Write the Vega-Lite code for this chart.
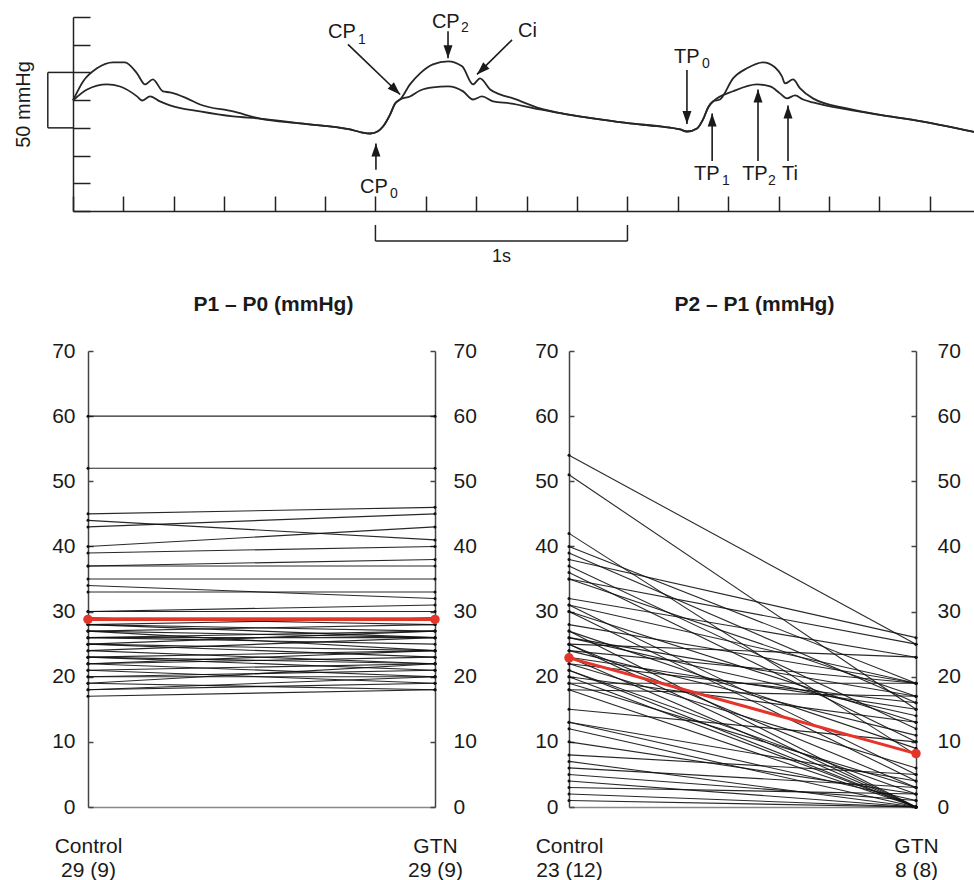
{
  "$schema": "https://vega.github.io/schema/vega-lite/v6.json",
  "padding": {"left": 14, "top": 11, "right": 0, "bottom": 0},
  "background": "white",
  "config": {"view": {"stroke": null}, "font": "Liberation Sans", "axis": {"grid": false}},
  "bounds": "flush",
  "spacing": 140,
  "datasets": {
    "wave": [
      {"trace":"A","t":0,"p":99.7},{"trace":"A","t":40,"p":116.9},{"trace":"A","t":95,"p":128.7},{"trace":"A","t":159,"p":134.1},{"trace":"A","t":206,"p":134.1},{"trace":"A","t":254,"p":124.2},{"trace":"A","t":286,"p":114.2},{"trace":"A","t":317,"p":118.8},{"trace":"A","t":357,"p":107.9},{"trace":"A","t":385,"p":107.0},{"trace":"A","t":452,"p":101.6},{"trace":"A","t":504,"p":96.1},{"trace":"A","t":635,"p":89.8},{"trace":"A","t":742,"p":83.4},{"trace":"A","t":901,"p":79.0},{"trace":"A","t":1099,"p":73.6},{"trace":"A","t":1147,"p":70.8},{"trace":"A","t":1179,"p":69.9},{"trace":"A","t":1210,"p":72.0},{"trace":"A","t":1230,"p":76.2},{"trace":"A","t":1258,"p":87.0},{"trace":"A","t":1278,"p":97.0},{"trace":"A","t":1298,"p":100.6},{"trace":"A","t":1337,"p":114.2},{"trace":"A","t":1377,"p":124.2},{"trace":"A","t":1428,"p":132.3},{"trace":"A","t":1488,"p":135.0},{"trace":"A","t":1544,"p":130.5},{"trace":"A","t":1587,"p":114.2},{"trace":"A","t":1615,"p":119.6},{"trace":"A","t":1655,"p":109.6},{"trace":"A","t":1694,"p":105.2},{"trace":"A","t":1746,"p":101.6},{"trace":"A","t":1853,"p":92.5},{"trace":"A","t":1960,"p":87.1},{"trace":"A","t":2091,"p":82.6},{"trace":"A","t":2210,"p":79.0},{"trace":"A","t":2329,"p":76.3},{"trace":"A","t":2409,"p":73.6},{"trace":"A","t":2436,"p":71.7},{"trace":"A","t":2476,"p":74.5},{"trace":"A","t":2500,"p":82.6},{"trace":"A","t":2520,"p":93.4},{"trace":"A","t":2540,"p":98.9},{"trace":"A","t":2567,"p":100.6},{"trace":"A","t":2619,"p":119.6},{"trace":"A","t":2674,"p":128.7},{"trace":"A","t":2738,"p":134.1},{"trace":"A","t":2786,"p":129.5},{"trace":"A","t":2813,"p":121.4},{"trace":"A","t":2825,"p":115.1},{"trace":"A","t":2857,"p":118.7},{"trace":"A","t":2885,"p":110.6},{"trace":"A","t":2936,"p":101.6},{"trace":"A","t":3071,"p":92.5},{"trace":"A","t":3202,"p":86.7},{"trace":"A","t":3333,"p":82.2},{"trace":"A","t":3575,"p":71.4},
      {"trace":"B","t":0,"p":99.7},{"trace":"B","t":56,"p":109.6},{"trace":"B","t":135,"p":114.2},{"trace":"B","t":187,"p":112.3},{"trace":"B","t":254,"p":103.4},{"trace":"B","t":274,"p":99.7},{"trace":"B","t":306,"p":103.4},{"trace":"B","t":345,"p":98.9},{"trace":"B","t":385,"p":95.3},{"trace":"B","t":504,"p":89.8},{"trace":"B","t":635,"p":85.3},{"trace":"B","t":742,"p":83.4},{"trace":"B","t":901,"p":79.0},{"trace":"B","t":1099,"p":73.6},{"trace":"B","t":1147,"p":70.8},{"trace":"B","t":1179,"p":69.9},{"trace":"B","t":1210,"p":72.0},{"trace":"B","t":1230,"p":76.2},{"trace":"B","t":1258,"p":87.0},{"trace":"B","t":1278,"p":97.0},{"trace":"B","t":1298,"p":100.6},{"trace":"B","t":1337,"p":103.3},{"trace":"B","t":1377,"p":108.7},{"trace":"B","t":1428,"p":111.5},{"trace":"B","t":1488,"p":112.4},{"trace":"B","t":1548,"p":107.9},{"trace":"B","t":1587,"p":100.6},{"trace":"B","t":1623,"p":103.4},{"trace":"B","t":1667,"p":98.9},{"trace":"B","t":1734,"p":97.1},{"trace":"B","t":1853,"p":91.6},{"trace":"B","t":1960,"p":87.1},{"trace":"B","t":2091,"p":82.6},{"trace":"B","t":2210,"p":79.0},{"trace":"B","t":2329,"p":76.3},{"trace":"B","t":2409,"p":73.6},{"trace":"B","t":2436,"p":71.7},{"trace":"B","t":2476,"p":74.5},{"trace":"B","t":2500,"p":82.6},{"trace":"B","t":2520,"p":93.4},{"trace":"B","t":2540,"p":98.9},{"trace":"B","t":2619,"p":108.0},{"trace":"B","t":2714,"p":114.2},{"trace":"B","t":2766,"p":112.4},{"trace":"B","t":2805,"p":106.1},{"trace":"B","t":2833,"p":101.6},{"trace":"B","t":2865,"p":104.3},{"trace":"B","t":2897,"p":100.6},{"trace":"B","t":2936,"p":97.9},{"trace":"B","t":3071,"p":91.6},{"trace":"B","t":3202,"p":86.7},{"trace":"B","t":3333,"p":82.2},{"trace":"B","t":3575,"p":71.4}
    ],
    "p1p0": [
      {"id":1,"Control":60,"GTN":60},{"id":2,"Control":52,"GTN":52},{"id":3,"Control":45,"GTN":46},{"id":4,"Control":44,"GTN":41},{"id":5,"Control":43,"GTN":45},{"id":6,"Control":40,"GTN":43},{"id":7,"Control":39,"GTN":40},{"id":8,"Control":37,"GTN":38},{"id":9,"Control":37,"GTN":37},{"id":10,"Control":35,"GTN":35},{"id":11,"Control":34,"GTN":32},{"id":12,"Control":33,"GTN":33},{"id":13,"Control":30,"GTN":31},{"id":14,"Control":30,"GTN":30},{"id":15,"Control":29,"GTN":29},{"id":16,"Control":29,"GTN":28},{"id":17,"Control":28,"GTN":29},{"id":18,"Control":28,"GTN":27},{"id":19,"Control":27,"GTN":28},{"id":20,"Control":27,"GTN":26},{"id":21,"Control":26,"GTN":27},{"id":22,"Control":26,"GTN":26},{"id":23,"Control":26,"GTN":25},{"id":24,"Control":25,"GTN":27},{"id":25,"Control":25,"GTN":24},{"id":26,"Control":25,"GTN":23},{"id":27,"Control":24,"GTN":26},{"id":28,"Control":23,"GTN":24},{"id":29,"Control":23,"GTN":22},{"id":30,"Control":23,"GTN":21},{"id":31,"Control":22,"GTN":24},{"id":32,"Control":22,"GTN":23},{"id":33,"Control":22,"GTN":20},{"id":34,"Control":21,"GTN":22},{"id":35,"Control":21,"GTN":19},{"id":36,"Control":20,"GTN":21},{"id":37,"Control":20,"GTN":20},{"id":38,"Control":19,"GTN":22},{"id":39,"Control":19,"GTN":18},{"id":40,"Control":18,"GTN":20},{"id":41,"Control":18,"GTN":19},{"id":42,"Control":17,"GTN":18},{"id":43,"Control":28,"GTN":26},{"id":44,"Control":27,"GTN":24},{"id":45,"Control":24,"GTN":22}
    ],
    "p2p1": [
      {"id":1,"Control":54,"GTN":25},{"id":2,"Control":51,"GTN":15},{"id":3,"Control":42,"GTN":8},{"id":4,"Control":40,"GTN":19},{"id":5,"Control":39,"GTN":16},{"id":6,"Control":38,"GTN":26},{"id":7,"Control":37,"GTN":12},{"id":8,"Control":36,"GTN":10},{"id":9,"Control":35,"GTN":25},{"id":10,"Control":35,"GTN":17},{"id":11,"Control":32,"GTN":23},{"id":12,"Control":31,"GTN":19},{"id":13,"Control":31,"GTN":5},{"id":14,"Control":30,"GTN":13},{"id":15,"Control":30,"GTN":4},{"id":16,"Control":28,"GTN":19},{"id":17,"Control":27,"GTN":9},{"id":18,"Control":27,"GTN":0},{"id":19,"Control":26,"GTN":17},{"id":20,"Control":26,"GTN":14},{"id":21,"Control":25,"GTN":23},{"id":22,"Control":25,"GTN":3},{"id":23,"Control":25,"GTN":0},{"id":24,"Control":24,"GTN":19},{"id":25,"Control":24,"GTN":11},{"id":26,"Control":23,"GTN":15},{"id":27,"Control":23,"GTN":0},{"id":28,"Control":22,"GTN":16},{"id":29,"Control":22,"GTN":6},{"id":30,"Control":21,"GTN":2},{"id":31,"Control":21,"GTN":0},{"id":32,"Control":20,"GTN":13},{"id":33,"Control":20,"GTN":0},{"id":34,"Control":19,"GTN":19},{"id":35,"Control":19,"GTN":3},{"id":36,"Control":18,"GTN":17},{"id":37,"Control":18,"GTN":0},{"id":38,"Control":15,"GTN":10},{"id":39,"Control":13,"GTN":4},{"id":40,"Control":13,"GTN":1},{"id":41,"Control":12,"GTN":0},{"id":42,"Control":10,"GTN":2},{"id":43,"Control":8,"GTN":5},{"id":44,"Control":7,"GTN":0},{"id":45,"Control":6,"GTN":3},{"id":46,"Control":5,"GTN":1},{"id":47,"Control":4,"GTN":0},{"id":48,"Control":3,"GTN":2},{"id":49,"Control":2,"GTN":0},{"id":50,"Control":1,"GTN":0}
    ]
  },
  "vconcat": [
    {
      "width": 886,
      "height": 194,
      "encoding": {
        "x": {"field": "t", "type": "quantitative",
          "scale": {"domain": [0, 3575], "range": [-15, 886], "nice": false, "zero": false},
          "axis": {"orient": "bottom", "title": null, "labels": false, "grid": false,
            "values": [0,200,400,600,800,1000,1200,1400,1600,1800,2000,2200,2400,2600,2800,3000,3200,3400],
            "tickSize": -15, "tickColor": "#222", "tickWidth": 1.5, "domainColor": "#222", "domainWidth": 1.5}},
        "y": {"field": "p", "type": "quantitative",
          "scale": {"domain": [0, 175], "nice": false, "zero": false},
          "axis": {"orient": "left", "offset": 15, "title": null, "labels": false, "grid": false,
            "values": [0,25,50,75,100,125,150,175],
            "tickSize": -17, "tickColor": "#222", "tickWidth": 1.5, "domainColor": "#222", "domainWidth": 1.5}}
      },
      "layer": [
        {"data": {"name": "wave"}, "mark": {"type": "line", "color": "#262626", "strokeWidth": 1.8, "interpolate": "monotone"},
         "encoding": {"detail": {"field": "trace"}}},
        {"data": {"values": [
          {"t": -100, "p": 75, "t2": -100, "p2": 125},
          {"t": -100, "p": 75, "t2": 0, "p2": 75},
          {"t": -100, "p": 125, "t2": 0, "p2": 125},
          {"t": 1200, "p": -27.1, "t2": 2200, "p2": -27.1},
          {"t": 1200, "p": -27.1, "t2": 1200, "p2": -12.6},
          {"t": 2200, "p": -27.1, "t2": 2200, "p2": -12.6}]},
         "mark": {"type": "rule", "color": "#222", "strokeWidth": 1.5},
         "encoding": {"x2": {"field": "t2"}, "y2": {"field": "p2"}}},
        {"data": {"values": [
          {"name": "CP1", "t0": 1091, "p0": 150.3, "t": 1298, "p": 105.1},
          {"name": "CP2", "t0": 1488, "p0": 162.1, "t": 1488, "p": 137.7},
          {"name": "Ci", "t0": 1742, "p0": 154.4, "t": 1603, "p": 123.2},
          {"name": "CP0", "t0": 1202, "p0": 37.3, "t": 1202, "p": 61.0},
          {"name": "TP0", "t0": 2436, "p0": 127.2, "t": 2436, "p": 78.4},
          {"name": "TP1", "t0": 2536, "p0": 45.2, "t": 2536, "p": 87.9},
          {"name": "TP2", "t0": 2718, "p0": 45.2, "t": 2718, "p": 109.6},
          {"name": "Ti", "t0": 2837, "p0": 45.2, "t": 2837, "p": 95.1}]},
         "layer": [
           {"mark": {"type": "rule", "color": "#1a1a1a", "strokeWidth": 1.6},
            "encoding": {"x2": {"field": "t0"}, "y2": {"field": "p0"}}},
           {"transform": [{"filter": "indexof(['CP0','TP1','TP2','Ti'], datum.name) >= 0"}],
            "mark": {"type": "point", "shape": "M0,0L-0.9,2.6L0.9,2.6Z", "filled": true, "color": "#1a1a1a", "size": 100, "opacity": 1, "angle": 0}},
           {"transform": [{"filter": "indexof(['CP2','TP0'], datum.name) >= 0"}],
            "mark": {"type": "point", "shape": "M0,0L-0.9,2.6L0.9,2.6Z", "filled": true, "color": "#1a1a1a", "size": 100, "opacity": 1, "angle": 180}},
           {"transform": [{"filter": "datum.name == 'CP1'"}],
            "mark": {"type": "point", "shape": "M0,0L-0.9,2.6L0.9,2.6Z", "filled": true, "color": "#1a1a1a", "size": 100, "opacity": 1, "angle": 134}},
           {"transform": [{"filter": "datum.name == 'Ci'"}],
            "mark": {"type": "point", "shape": "M0,0L-0.9,2.6L0.9,2.6Z", "filled": true, "color": "#1a1a1a", "size": 100, "opacity": 1, "angle": 226}}
         ]},
        {"data": {"values": [
          {"label": "CP", "t": 1012, "p": 156.0},
          {"label": "CP", "t": 1424, "p": 165.1},
          {"label": "Ci", "t": 1766, "p": 156.7},
          {"label": "CP", "t": 1139, "p": 15.9},
          {"label": "TP", "t": 2385, "p": 133.4},
          {"label": "TP", "t": 2464, "p": 28.0},
          {"label": "TP", "t": 2655, "p": 28.0},
          {"label": "Ti", "t": 2813, "p": 28.0}]},
         "mark": {"type": "text", "align": "left", "baseline": "alphabetic", "fontSize": 20, "font": "Liberation Sans", "color": "#1a1a1a"},
         "encoding": {"text": {"field": "label"}}},
        {"data": {"values": [
          {"label": "1", "t": 1131, "p": 150.4},
          {"label": "2", "t": 1540, "p": 161.5},
          {"label": "0", "t": 1258, "p": 11.4},
          {"label": "0", "t": 2496, "p": 128.9},
          {"label": "1", "t": 2575, "p": 23.5},
          {"label": "2", "t": 2758, "p": 23.5}]},
         "mark": {"type": "text", "align": "left", "baseline": "alphabetic", "fontSize": 14, "font": "Liberation Sans", "color": "#1a1a1a"},
         "encoding": {"text": {"field": "label"}}},
        {"data": {"values": [{"label": "1s", "t": 1700, "p": -45.8}]},
         "mark": {"type": "text", "align": "center", "baseline": "alphabetic", "fontSize": 18, "font": "Liberation Sans", "color": "#1a1a1a"},
         "encoding": {"text": {"field": "label"}}},
        {"data": {"values": [{"label": "50 mmHg", "t": -194, "p": 96.1}]},
         "mark": {"type": "text", "align": "center", "baseline": "middle", "angle": 270, "fontSize": 20, "font": "Liberation Sans", "color": "#1a1a1a"},
         "encoding": {"text": {"field": "label"}}}
      ]
    },
    {
      "hconcat": [
        {
          "width": 347,
          "height": 456,
          "title": {"text": "P1 – P0 (mmHg)", "fontSize": 21, "fontWeight": "bold", "font": "Liberation Sans", "color": "#1a1a1a", "dx": 12, "offset": 8, "baseline": "alphabetic", "anchor": "middle"},
          "encoding": {
            "x": {"field": "condition", "type": "nominal",
              "scale": {"type": "point", "padding": 0, "domain": ["Control", "GTN"]},
              "axis": {"orient": "bottom", "title": null, "ticks": false, "domain": true, "domainColor": "#888", "domainWidth": 1.5,
                "labelAngle": 0, "labelAlign": "center", "labelBaseline": "top", "labelPadding": 28, "labelFontSize": 21,
                "labelLineHeight": 24, "labelColor": "#1a1a1a", "labelFont": "Liberation Sans",
                "labelExpr": "datum.value == 'Control' ? ['Control', '29 (9)'] : ['GTN', '29 (9)']"}}
          },
          "layer": [
            {
              "data": {"name": "p1p0"},
              "transform": [{"fold": ["Control", "GTN"], "as": ["condition", "value"]}],
              "encoding": {
                "y": {"field": "value", "type": "quantitative", "scale": {"domain": [0, 70], "nice": false},
                  "axis": {"orient": "left", "title": null, "values": [0,10,20,30,40,50,60,70], "grid": false,
                    "tickSize": -5, "tickColor": "#444", "tickWidth": 1.5, "domainColor": "#444", "domainWidth": 1.5,
                    "labelPadding": 18, "labelFontSize": 21, "labelColor": "#1a1a1a", "labelFont": "Liberation Sans"}}
              },
              "layer": [
                {"mark": {"type": "line", "color": "#111", "strokeWidth": 1.1, "opacity": 0.9}, "encoding": {"detail": {"field": "id"}}},
                {"mark": {"type": "point", "filled": true, "color": "#111", "size": 9, "opacity": 1}}
              ]
            },
            {
              "data": {"values": [{"condition": "Control", "value": 28.8}, {"condition": "GTN", "value": 28.8}]},
              "encoding": {
                "y": {"field": "value", "type": "quantitative", "scale": {"domain": [0, 70], "nice": false},
                  "axis": {"orient": "right", "title": null, "values": [0,10,20,30,40,50,60,70], "grid": false,
                    "tickSize": -5, "tickColor": "#444", "tickWidth": 1.5, "domainColor": "#444", "domainWidth": 1.5,
                    "labelPadding": 23, "labelFontSize": 21, "labelColor": "#1a1a1a", "labelFont": "Liberation Sans"}}
              },
              "layer": [
                {"mark": {"type": "line", "color": "#e5352b", "strokeWidth": 3}},
                {"mark": {"type": "point", "filled": true, "color": "#e5352b", "size": 90, "opacity": 1}}
              ]
            }
          ],
          "resolve": {"scale": {"y": "independent"}}
        },
        {
          "width": 347,
          "height": 456,
          "title": {"text": "P2 – P1 (mmHg)", "fontSize": 21, "fontWeight": "bold", "font": "Liberation Sans", "color": "#1a1a1a", "dx": 12, "offset": 8, "baseline": "alphabetic", "anchor": "middle"},
          "encoding": {
            "x": {"field": "condition", "type": "nominal",
              "scale": {"type": "point", "padding": 0, "domain": ["Control", "GTN"]},
              "axis": {"orient": "bottom", "title": null, "ticks": false, "domain": true, "domainColor": "#888", "domainWidth": 1.5,
                "labelAngle": 0, "labelAlign": "center", "labelBaseline": "top", "labelPadding": 28, "labelFontSize": 21,
                "labelLineHeight": 24, "labelColor": "#1a1a1a", "labelFont": "Liberation Sans",
                "labelExpr": "datum.value == 'Control' ? ['Control', '23 (12)'] : ['GTN', '8 (8)']"}}
          },
          "layer": [
            {
              "data": {"name": "p2p1"},
              "transform": [{"fold": ["Control", "GTN"], "as": ["condition", "value"]}],
              "encoding": {
                "y": {"field": "value", "type": "quantitative", "scale": {"domain": [0, 70], "nice": false},
                  "axis": {"orient": "left", "title": null, "values": [0,10,20,30,40,50,60,70], "grid": false,
                    "tickSize": -5, "tickColor": "#444", "tickWidth": 1.5, "domainColor": "#444", "domainWidth": 1.5,
                    "labelPadding": 16, "labelFontSize": 21, "labelColor": "#1a1a1a", "labelFont": "Liberation Sans"}}
              },
              "layer": [
                {"mark": {"type": "line", "color": "#111", "strokeWidth": 1.1, "opacity": 0.9}, "encoding": {"detail": {"field": "id"}}},
                {"mark": {"type": "point", "filled": true, "color": "#111", "size": 9, "opacity": 1}}
              ]
            },
            {
              "data": {"values": [{"condition": "Control", "value": 22.9}, {"condition": "GTN", "value": 8.2}]},
              "encoding": {
                "y": {"field": "value", "type": "quantitative", "scale": {"domain": [0, 70], "nice": false},
                  "axis": {"orient": "right", "title": null, "values": [0,10,20,30,40,50,60,70], "grid": false,
                    "tickSize": -5, "tickColor": "#444", "tickWidth": 1.5, "domainColor": "#444", "domainWidth": 1.5,
                    "labelPadding": 26, "labelFontSize": 21, "labelColor": "#1a1a1a", "labelFont": "Liberation Sans"}}
              },
              "layer": [
                {"mark": {"type": "line", "color": "#e5352b", "strokeWidth": 3}},
                {"mark": {"type": "point", "filled": true, "color": "#e5352b", "size": 90, "opacity": 1}}
              ]
            }
          ],
          "resolve": {"scale": {"y": "independent"}}
        }
      ],
      "spacing": 134,
      "bounds": "flush"
    }
  ]
}
